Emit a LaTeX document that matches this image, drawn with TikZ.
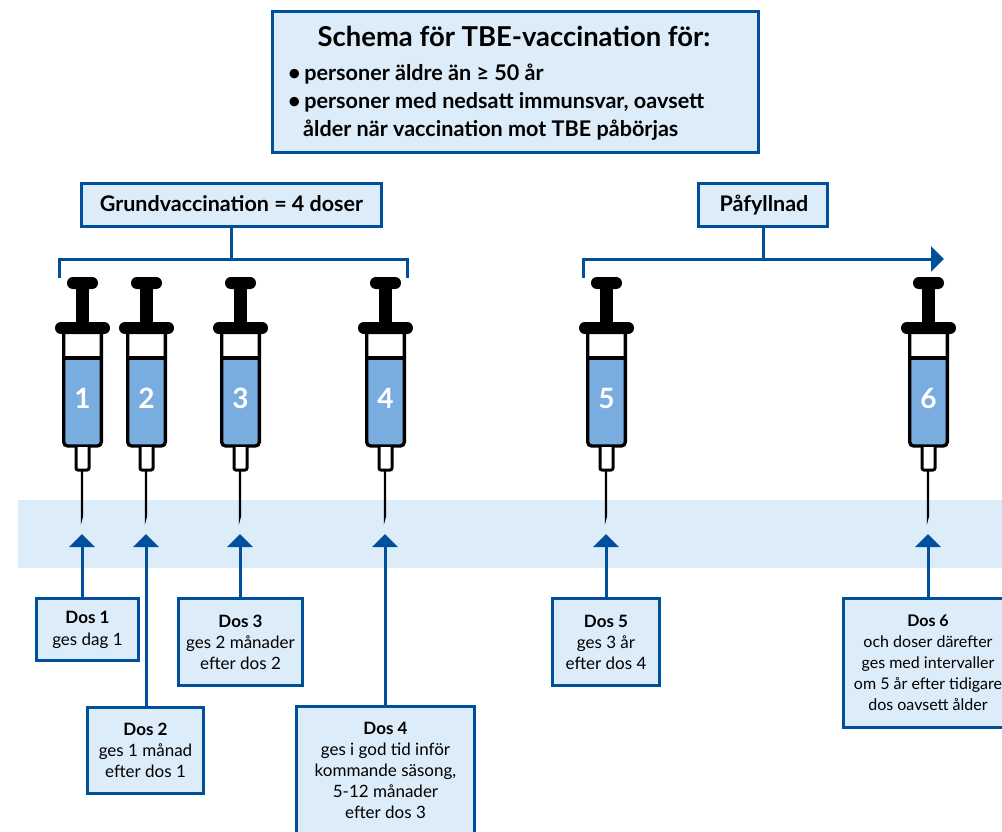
\documentclass[tikz,border=0pt]{standalone}
\usepackage{fontspec}
\setmainfont{Lato}
\usetikzlibrary{arrows.meta}
\definecolor{navy}{HTML}{004F9A}
\definecolor{pale}{HTML}{DCECF9}
\definecolor{liquid}{HTML}{7AADDF}
\tikzset{
  x=1pt,y=-1pt,
  box/.style={draw=navy,fill=pale,line width=3pt,inner sep=0pt,outer sep=0pt,align=center,font=\fontsize{17}{21}\selectfont},
  head/.style={box,font=\fontsize{21.5}{24}\selectfont\bfseries},
  link/.style={draw=navy,line width=3pt},
  uparrow/.style={link,-{Triangle[width=25pt,length=13pt]}},
  syringe/.pic={
    \fill[liquid] (-18,358) -- (19,358) -- (19,441) -- (14,446) -- (-13,446) -- (-18,441) -- cycle;
    \draw[black,line width=3.4pt,rounded corners=4pt] (-18.3,332) -- (-18.3,446) -- (19.3,446) -- (19.3,332);
    \draw[black,line width=3.2pt] (-18.3,358) -- (19.3,358);
    \draw[black,line width=3pt,fill=white,rounded corners=2pt] (-6,447) -- (-6,470) -- (7,470) -- (7,447);
    \fill[black] (-1.2,470) -- (1.2,470) -- (1.2,516) -- (-1.2,525) -- cycle;
    \fill[black] (-6,285) rectangle (7,325);
    \fill[black,rounded corners=5.9pt] (-15,277) rectangle (16,289);
    \fill[black,rounded corners=5.9pt] (-27,322) rectangle (28,334);
    \node[text=white,font=\fontsize{28}{28}\selectfont\bfseries,inner sep=0pt] (-num) at (0.5,398) {\tikzpictext};
  }
}
\begin{document}
\begin{tikzpicture}
\useasboundingbox (0,0) rectangle (1002,831);
\fill[pale] (18,500) rectangle (1002,568);

% title box
\node[box,minimum width=486pt,minimum height=141pt] (main) at (515,81.5) {};
\node[font=\fontsize{27.4}{27}\selectfont\bfseries,inner sep=0pt] (title) at (514,36) {Schema för TBE-vaccination för:};
\node[anchor=north west,inner sep=0pt,align=left,font=\fontsize{21.6}{28}\selectfont\bfseries] (bullets) at (288,63.5)
  {•\,personer äldre än ≥ 50 år\\•\,personer med nedsatt immunsvar, oavsett\\\hspace*{15pt}ålder när vaccination mot TBE påbörjas};

% group heads
\node[head,minimum width=300pt,minimum height=43pt] (grund) at (231.5,205) {\raisebox{2.5pt}{Grundvaccination = 4 doser}};
\node[head,minimum width=129pt,minimum height=43pt] (paf) at (763,205) {\raisebox{2.5pt}{\hspace{2pt}Påfyllnad}};

% brackets
\coordinate (bl) at (59,278);
\coordinate (br) at (407.5,278);
\coordinate (bj) at (231.5,259);
\coordinate (pl) at (583,278);
\coordinate (pr) at (944,259);
\coordinate (pj) at (763,259);
\draw[link] (bl) |- (bj) -| (br);
\draw[link] (grund.south) -- (bj);
\draw[link,-{Triangle[width=25pt,length=13pt]}] (pl) |- (pr);
\draw[link] (paf.south) -- (pj);

% syringes
\pic[pic text=1] at (82,0) {syringe};
\pic[pic text=2] at (146,0) {syringe};
\pic[pic text=3] at (240,0) {syringe};
\pic[pic text=4] at (385,0) {syringe};
\pic[pic text=5] at (606,0) {syringe};
\pic[pic text=6] at (928,0) {syringe};

% arrow tips
\coordinate (t1) at (82,534);
\coordinate (t2) at (146,534);
\coordinate (t3) at (240,534);
\coordinate (t4) at (385,534);
\coordinate (t5) at (606,534);
\coordinate (t6) at (928,534);

% dose boxes
\node[box,minimum width=102pt,minimum height=62pt] (d1) at (87.5,629.5) {\textbf{Dos 1}\\[1pt]ges dag 1};
\node[box,minimum width=116pt,minimum height=86pt] (d2) at (145.5,750.5) {\textbf{Dos 2}\\ges 1 månad\\efter dos 1};
\node[box,minimum width=124pt,minimum height=87pt] (d3) at (240.5,642) {\textbf{Dos 3}\\ges 2 månader\\efter dos 2};
\node[box,minimum width=178pt,minimum height=127pt] (d4) at (385.5,770) {\textbf{Dos 4}\\ges i god tid inför\\kommande säsong,\\5-12 månader\\efter dos 3};
\node[box,minimum width=107pt,minimum height=87pt] (d5) at (606,642) {\textbf{Dos 5}\\ges 3 år\\efter dos 4};
\node[box,minimum width=170pt,minimum height=129pt,font=\fontsize{16}{21}\selectfont] (d6) at (928,662.5) {\textbf{Dos 6}\\och doser därefter\\ges med intervaller\\om 5 år efter tidigare\\dos oavsett ålder};

\draw[uparrow] (d1.north -| t1) -- (t1);
\draw[uparrow] (d2.north -| t2) -- (t2);
\draw[uparrow] (d3.north -| t3) -- (t3);
\draw[uparrow] (d4.north -| t4) -- (t4);
\draw[uparrow] (d5.north -| t5) -- (t5);
\draw[uparrow] (d6.north -| t6) -- (t6);
\end{tikzpicture}
\end{document}
